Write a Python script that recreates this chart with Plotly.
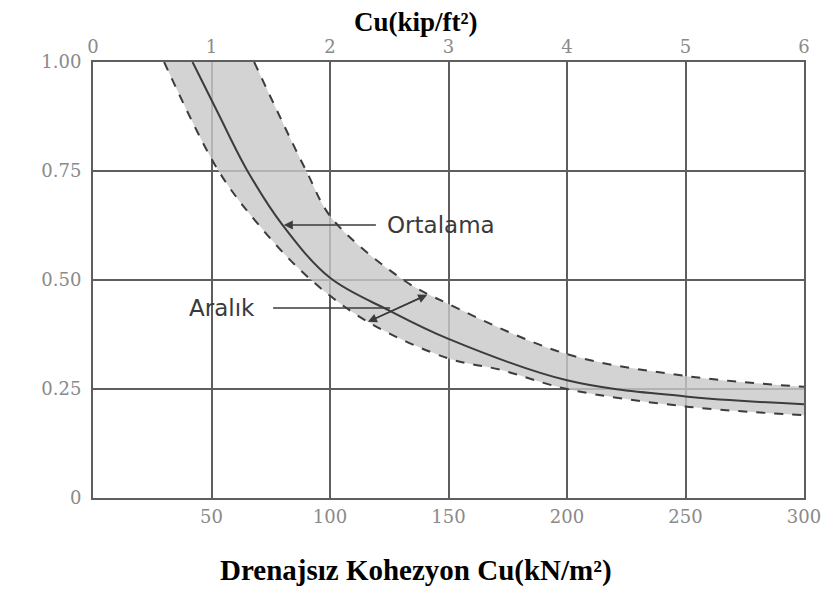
import plotly.graph_objects as go

# Data
cu_mean = [42, 53, 65, 80, 100, 125, 150, 200, 250, 300]
r_mean = [1.00, 0.88, 0.752, 0.626, 0.505, 0.43, 0.365, 0.27, 0.233, 0.215]

cu_upper = [68, 90, 101, 131, 150, 200, 250, 300]
r_upper = [1.00, 0.75, 0.64, 0.50, 0.445, 0.33, 0.28, 0.255]

cu_lower = [30, 53, 70, 91, 116, 150, 172, 200, 250, 300]
r_lower = [1.00, 0.75, 0.626, 0.505, 0.404, 0.32, 0.294, 0.25, 0.21, 0.19]

x_ticks_bottom = [50, 100, 150, 200, 250, 300]
x_ticks_top = [0, 1, 2, 3, 4, 5, 6]
y_ticks = [0, 0.25, 0.5, 0.75, 1.0]
y_ticklabels = ["0", "0.25", "0.50", "0.75", "1.00"]

grid_c = "#5e5e5e"
line_c = "#3c3c3c"
tick_font = dict(family="DejaVu Serif", size=18, color="#8a8a8a")

fig = go.Figure()

fig.add_trace(go.Scatter(x=cu_lower, y=r_lower, mode="lines",
                         line=dict(color=line_c, width=2, dash="dash", shape="spline"),
                         showlegend=False))
fig.add_trace(go.Scatter(x=cu_upper, y=r_upper, mode="lines",
                         fill="tonexty", fillcolor="rgba(200,200,200,0.8)",
                         line=dict(color=line_c, width=2, dash="dash", shape="spline"),
                         showlegend=False))
fig.add_trace(go.Scatter(x=cu_mean, y=r_mean, mode="lines",
                         line=dict(color=line_c, width=2, shape="spline"),
                         showlegend=False))
# invisible trace for top axis
fig.add_trace(go.Scatter(x=[0, 6], y=[0, 0], xaxis="x2", mode="lines",
                         line=dict(width=0), hoverinfo="skip", showlegend=False))

ann_font = dict(family="DejaVu Sans", size=23, color="#3a3a3a")

# Ortalama annotation
fig.add_annotation(x=80.5, y=0.626, ax=120, ay=0.626, xref="x", yref="y",
                   axref="x", ayref="y", showarrow=True, arrowhead=2,
                   arrowsize=1.2, arrowwidth=1.5, arrowcolor=line_c, text="")
fig.add_annotation(x=123, y=0.626, xref="x", yref="y", text="Ortalama",
                   showarrow=False, xanchor="left", font=ann_font)

# Aralık annotation
fig.add_annotation(x=116, y=0.404, ax=141, ay=0.466, xref="x", yref="y",
                   axref="x", ayref="y", showarrow=True, arrowhead=2,
                   arrowsize=1.2, arrowwidth=1.5, arrowcolor=line_c, text="")
fig.add_annotation(x=141, y=0.466, ax=116, ay=0.404, xref="x", yref="y",
                   axref="x", ayref="y", showarrow=True, arrowhead=2,
                   arrowsize=1.2, arrowwidth=1.5, arrowcolor=line_c, text="")
fig.add_annotation(x=76, y=0.436, ax=126, ay=0.436, xref="x", yref="y",
                   axref="x", ayref="y", showarrow=True, arrowhead=0,
                   arrowwidth=1.5, arrowcolor=line_c, text="")
fig.add_annotation(x=69, y=0.436, xref="x", yref="y", text="Aralık",
                   showarrow=False, xanchor="right", font=ann_font)

# Titles
title_font = dict(family="Liberation Serif", size=27, color="black")
fig.add_annotation(x=0.454, y=1.0, xref="paper", yref="paper", yshift=40,
                   yanchor="middle", text="<b>Cu(kip/ft²)</b>",
                   showarrow=False, font=title_font)
fig.add_annotation(x=0.454, y=0, xref="paper", yref="paper", yshift=-72,
                   yanchor="middle",
                   text="<b>Drenajsız Kohezyon Cu(kN/m²)</b>",
                   showarrow=False, font=dict(family="Liberation Serif", size=29, color="black"))

fig.update_layout(
    width=829, height=589,
    margin=dict(l=85, r=33, t=54, b=99),
    plot_bgcolor="white", paper_bgcolor="white",
    xaxis=dict(range=[0, 300], tickvals=x_ticks_bottom, ticks="outside",
               ticklen=1, tickcolor="white",
               showgrid=True, gridcolor=grid_c, gridwidth=2,
               showline=True, linecolor=grid_c, linewidth=2, mirror=True,
               zeroline=False, tickfont=tick_font),
    xaxis2=dict(range=[0, 6], tickvals=x_ticks_top, overlaying="x", side="top",
                ticks="outside", ticklen=1, tickcolor="rgba(0,0,0,0)",
                showgrid=False, zeroline=False, showline=False, tickfont=tick_font),
    yaxis=dict(range=[0, 1], tickvals=y_ticks, ticktext=y_ticklabels,
               ticks="outside", ticklen=6, tickcolor="white",
               showgrid=True, gridcolor=grid_c, gridwidth=1.5,
               showline=True, linecolor=grid_c, linewidth=2, mirror=True,
               zeroline=False, tickfont=tick_font),
)

fig.write_html("out.html")
